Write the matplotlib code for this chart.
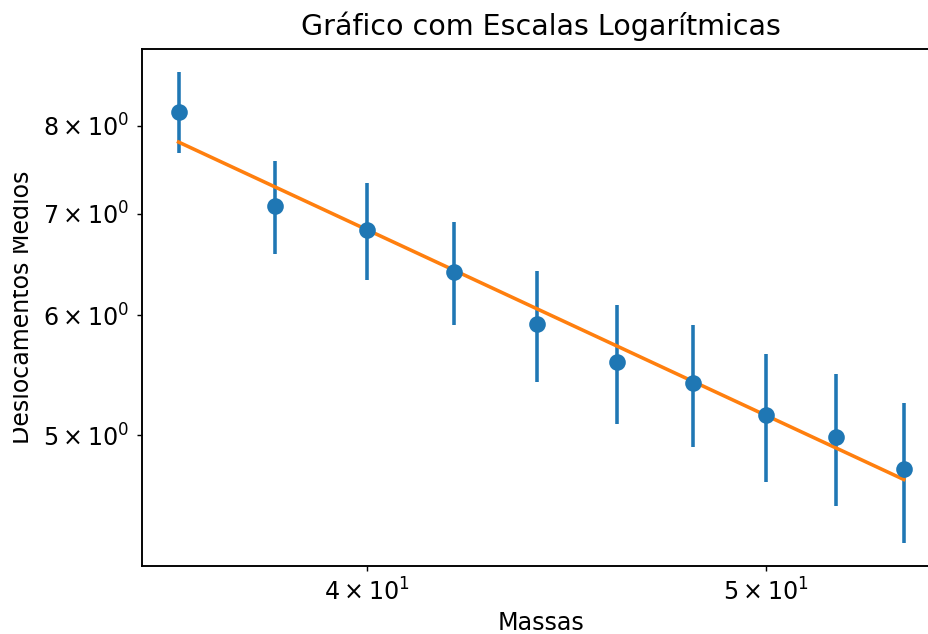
import numpy as np
import matplotlib
matplotlib.use("Agg")
import matplotlib.pyplot as plt
from matplotlib.transforms import Bbox, TransformedBbox

massas = [36, 38, 40, 42, 44, 46, 48, 50, 52, 54]
deslocamentos = [8.17, 7.08, 6.83, 6.41, 5.92, 5.59, 5.41, 5.16, 4.99, 4.75]
erros = [0.5] * len(massas)

x = np.array(massas, dtype=float)
y = np.array(deslocamentos, dtype=float)

# ajuste de lei de potencia: log(y) = a*log(x) + b
a, b = np.polyfit(np.log(x), np.log(y), 1)
y_ajuste = np.exp(b) * x ** a

DPI = 171
fig = plt.figure(figsize=(928 / DPI, 634 / DPI), dpi=DPI)
ax = fig.add_axes([142.3 / 928, 68 / 634, 797.7 / 928, 517 / 634])

ax.errorbar(x, y, yerr=erros, fmt="o")
ax.plot(x, y_ajuste)

ax.set_xscale("log")
ax.set_yscale("log")
ax.set_title("Gráfico com Escalas Logarítmicas")
ax.set_xlabel("Massas", labelpad=2)
ax.set_ylabel("Deslocamentos Medios")

# corta o rotulo do eixo y na borda esquerda
lab = ax.yaxis.label
lab.set_clip_on(True)
lab.set_clip_box(TransformedBbox(Bbox([[12.7 / 928, 0], [1, 1]]), fig.transFigure))

fig.savefig("out.png", dpi=DPI)
